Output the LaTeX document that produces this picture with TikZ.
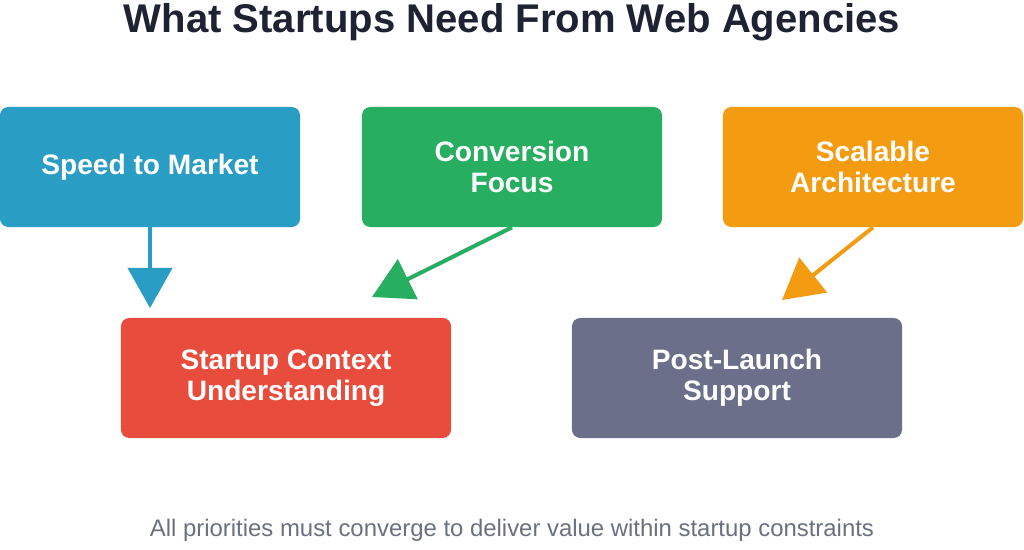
\documentclass[tikz,border=0pt]{standalone}
\usepackage{fontspec}
\setmainfont{Liberation Sans}
\usetikzlibrary{arrows.meta,positioning}
\definecolor{titlecol}{HTML}{1E2233}
\definecolor{speedcol}{HTML}{2A9DC4}
\definecolor{convcol}{HTML}{27AE60}
\definecolor{scalecol}{HTML}{F39C12}
\definecolor{ctxcol}{HTML}{E74C3C}
\definecolor{postcol}{HTML}{6B6F8A}
\definecolor{notecol}{HTML}{6B7080}
\begin{document}
\begin{tikzpicture}[
        x=0.025cm, y=-0.025cm,
        need/.style={
            rectangle,
            rounded corners=6pt,
            minimum width=7.5cm,
            minimum height=3cm,
            text=white,
            font=\fontsize{20}{22}\selectfont\bfseries,
            align=center
        },
        flow/.style={-{Triangle[width=1.1cm,length=1cm]}, line width=0.1cm}
    ]
    \useasboundingbox (0,0) rectangle (1024,550);

    \node[font=\fontsize{28.5}{30}\selectfont\bfseries, text=titlecol] (title) at (512,22) {What Startups Need From Web Agencies};

    \node[need, fill=speedcol] (speed) at (150,167) {Speed to Market};
    \node[need, fill=convcol] (conv) at (512,167) {Conversion\\Focus};
    \node[need, fill=scalecol] (scale) at (873,167) {Scalable\\Architecture};
    \node[need, fill=ctxcol, minimum width=8.25cm] (ctx) at (286,378) {Startup Context\\Understanding};
    \node[need, fill=postcol, minimum width=8.25cm] (post) at (737,378) {Post-Launch\\Support};

    \coordinate (speedend) at (150,308);
    \coordinate (convend) at (372,297);
    \coordinate (scaleend) at (782,300);
    \draw[flow, speedcol] (speed.south) -- (speedend);
    \draw[flow, convcol] (conv.south) -- (convend);
    \draw[flow, scalecol] (scale.south) -- (scaleend);

    \node[font=\fontsize{17}{19}\selectfont, text=notecol] (note) at (512,530) {All priorities must converge to deliver value within startup constraints};
\end{tikzpicture}
\end{document}
